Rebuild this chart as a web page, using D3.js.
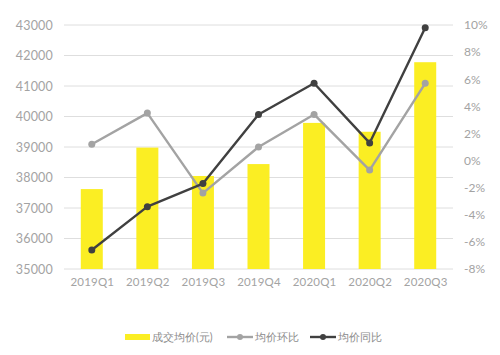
<!DOCTYPE html>
<html><head><meta charset="utf-8">
<script src="https://cdn.jsdelivr.net/npm/d3@7"></script>
<style>body{margin:0;background:#fff}svg{display:block}</style>
</head><body>
<script>
const categories = ["2019Q1","2019Q2","2019Q3","2019Q4","2020Q1","2020Q2","2020Q3"];
const avgPrice = [37620, 38980, 38050, 38440, 39790, 39500, 41780];
const qoq = [1.2, 3.5, -2.4, 1.0, 3.4, -0.7, 5.7];
const yoy = [-6.6, -3.4, -1.7, 3.4, 5.7, 1.3, 9.8];
const leftTicks = [35000,36000,37000,38000,39000,40000,41000,42000,43000];
const rightTicks = [-8,-6,-4,-2,0,2,4,6,8,10];
const legendLabels = ["成交均价(元)","均价环比","均价同比"];

const W=500,H=355;
const m={l:64,r:47,t:25,b:86};
const svg=d3.select("body").append("svg").attr("width",W).attr("height",H);
const xc=d3.scalePoint().domain(categories).range([m.l,W-m.r]).padding(0.5);
const yL=d3.scaleLinear().domain([35000,43000]).range([H-m.b,m.t]);
const yR=d3.scaleLinear().domain([-8,10]).range([H-m.b,m.t]);
const font="Lato, 'Noto Sans', sans-serif";
const tcol="#a3a3a3";

// grid
svg.append("g").selectAll("line").data(leftTicks).join("line")
 .attr("x1",m.l).attr("x2",W-m.r).attr("y1",d=>yL(d)).attr("y2",d=>yL(d))
 .attr("stroke","#dedede").attr("stroke-width",1);

// left axis
const gl=svg.append("g").attr("transform",`translate(${m.l},0)`)
 .call(d3.axisLeft(yL).tickValues(leftTicks).tickSize(0).tickPadding(11).tickFormat(d3.format("d")));
gl.select(".domain").remove();
gl.selectAll("text").attr("fill",tcol).style("font-family",font).style("font-size","12.5px").style("letter-spacing","0.2px");

// right axis
const gr=svg.append("g").attr("transform",`translate(${W-m.r},0)`)
 .call(d3.axisRight(yR).tickValues(rightTicks).tickSize(0).tickPadding(11).tickFormat(d=>d+"%"));
gr.select(".domain").remove();
gr.selectAll("text").attr("fill",tcol).style("font-family",font).style("font-size","12px");

// bottom axis
const gb=svg.append("g").attr("transform",`translate(0,${H-m.b})`)
 .call(d3.axisBottom(xc).tickSize(0).tickPadding(9));
gb.select(".domain").remove();
gb.selectAll("text").attr("fill",tcol).style("font-family",font).style("font-size","11.5px").style("letter-spacing","0.2px");

// bars
const bw=22;
svg.append("g").selectAll("rect").data(avgPrice).join("rect")
 .attr("x",(d,i)=>xc(categories[i])-bw/2).attr("width",bw)
 .attr("y",d=>yL(d)).attr("height",d=>yL(35000)-yL(d))
 .attr("fill","#fbee23");

function drawLine(data,color){
  const line=d3.line().x((d,i)=>xc(categories[i])).y(d=>yR(d));
  svg.append("path").datum(data).attr("d",line).attr("fill","none")
   .attr("stroke",color).attr("stroke-width",2.4).attr("stroke-linejoin","round");
  svg.append("g").selectAll("circle").data(data).join("circle")
   .attr("cx",(d,i)=>xc(categories[i])).attr("cy",d=>yR(d)).attr("r",3.5).attr("fill",color);
}
drawLine(qoq,"#a3a3a3");
drawLine(yoy,"#404040");

// legend
const ly=337;
const lg=svg.append("g").style("font-family",font).style("font-size","10.5px");
lg.append("rect").attr("x",125).attr("y",ly-3).attr("width",25).attr("height",6).attr("fill","#fbee23");
lg.append("text").attr("x",152).attr("y",ly+4).attr("fill","#8c8c8c").text(legendLabels[0]);
[[227,"#a3a3a3",legendLabels[1]],[310,"#404040",legendLabels[2]]].forEach(([lx,c,t])=>{
  lg.append("line").attr("x1",lx).attr("x2",lx+26).attr("y1",ly).attr("y2",ly).attr("stroke",c).attr("stroke-width",2.4);
  lg.append("circle").attr("cx",lx+13).attr("cy",ly).attr("r",3).attr("fill",c);
  lg.append("text").attr("x",lx+28).attr("y",ly+4).attr("fill","#8c8c8c").text(t);
});
</script>
</body></html>
